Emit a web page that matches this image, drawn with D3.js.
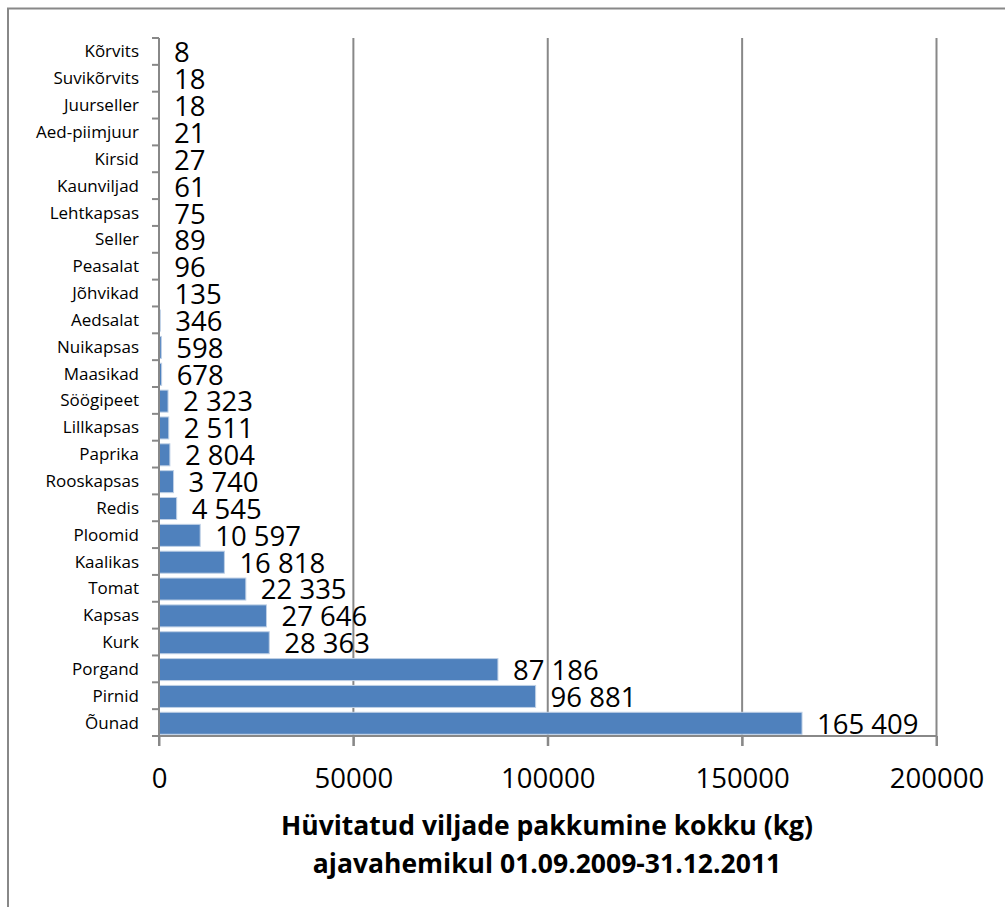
<!DOCTYPE html>
<html>
<head>
<meta charset="utf-8">
<script src="https://cdn.jsdelivr.net/npm/d3@7"></script>
<style>
  html, body { margin: 0; padding: 0; background: #fff; }
  svg { display: block; }
</style>
</head>
<body>
<svg id="chart" width="1005" height="907"></svg>
<script>
const categories = ["Kõrvits","Suvikõrvits","Juurseller","Aed-piimjuur","Kirsid","Kaunviljad","Lehtkapsas","Seller","Peasalat","Jõhvikad","Aedsalat","Nuikapsas","Maasikad","Söögipeet","Lillkapsas","Paprika","Rooskapsas","Redis","Ploomid","Kaalikas","Tomat","Kapsas","Kurk","Porgand","Pirnid","Õunad"];
const values = [8,18,18,21,27,61,75,89,96,135,346,598,678,2323,2511,2804,3740,4545,10597,16818,22335,27646,28363,87186,96881,165409];
const xTicks = [0,50000,100000,150000,200000];
const titleLines = ["Hüvitatud viljade pakkumine kokku (kg)", "ajavahemikul 01.09.2009-31.12.2011"];

(function(){
const svg = d3.select("#chart");
svg.append("rect").attr("x",0).attr("y",0).attr("width",1005).attr("height",907).attr("fill","#fff");
// outer frame (only top and left visible)
svg.append("rect").attr("x",8).attr("y",8.5).attr("width",1100).attr("height",1000)
  .attr("fill","none").attr("stroke","#888").attr("stroke-width",2);

const pL = 159, pR = 936.5, pT = 38, pB = 736;
const x = d3.scaleLinear().domain([0,200000]).range([pL,pR]);
const y = d3.scaleBand().domain(categories).range([pT,pB]).paddingInner(0.18).paddingOuter(0.09);
const band = (pB-pT)/categories.length;

const gridColor = "#888";
// gridlines
svg.append("g").selectAll("line").data(xTicks.slice(1)).join("line")
  .attr("x1",d=>x(d)).attr("x2",d=>x(d)).attr("y1",pT).attr("y2",pB+10)
  .attr("stroke",gridColor).attr("stroke-width",2);

// bars
svg.append("g").selectAll("rect").data(values).join("rect")
  .attr("x",pL)
  .attr("y",(d,i)=>y(categories[i])+0.7)
  .attr("width",d=>Math.max(0,x(d)-pL))
  .attr("height",y.bandwidth())
  .attr("fill","#4f81bd")
  .attr("stroke","#bfd0e6").attr("stroke-width",d=>x(d)-pL>1.5?1:0);

// x axis
const xAxis = d3.axisBottom(x).tickValues(xTicks).tickSize(10).tickPadding(14).tickFormat(d3.format("d"));
const gx = svg.append("g").attr("transform",`translate(0,${pB})`).call(xAxis);
gx.select(".domain").attr("stroke",gridColor).attr("stroke-width",2).attr("d",`M${pL},0H${pR}`);
gx.selectAll(".tick line").attr("stroke",gridColor).attr("stroke-width",2);
gx.selectAll(".tick text").attr("font-family","'Open Sans', sans-serif").attr("font-size","27.5px").attr("fill","#000")
  .attr("dy",null).attr("y",52);

// y axis
const ga = svg.append("g").attr("transform",`translate(${pL},0)`);
ga.append("line").attr("x1",0).attr("x2",0).attr("y1",pT).attr("y2",pB+10).attr("stroke",gridColor).attr("stroke-width",2);
ga.selectAll("line.tk").data(d3.range(categories.length+1)).join("line").attr("class","tk")
  .attr("x1",-7).attr("x2",0).attr("y1",i=>pT+i*band).attr("y2",i=>pT+i*band)
  .attr("stroke",gridColor).attr("stroke-width",2);
ga.selectAll("text").data(categories).join("text")
  .attr("x",-20).attr("y",(d,i)=>pT+(i+0.5)*band+6)
  .attr("text-anchor","end").attr("font-family","'Open Sans', sans-serif").attr("font-size","17px").attr("fill","#000")
  .text(d=>d);

// data labels
const fmt = v => d3.format(",")(v).replace(/,/g," ");
svg.append("g").selectAll("text").data(values).join("text")
  .attr("x",d=>x(d)+15)
  .attr("y",(d,i)=>pT+(i+0.5)*band+11)
  .attr("font-family","'Open Sans', sans-serif").attr("font-size","27.5px").attr("fill","#000")
  .text(d=>fmt(d));

// title
svg.append("g").selectAll("text").data(titleLines).join("text")
  .attr("x",547).attr("y",(d,i)=>835+i*38)
  .attr("text-anchor","middle").attr("font-family","'Open Sans', sans-serif").attr("font-weight","bold")
  .attr("font-size","26.5px").attr("fill","#000")
  .text(d=>d);
})();
</script>
</body>
</html>
